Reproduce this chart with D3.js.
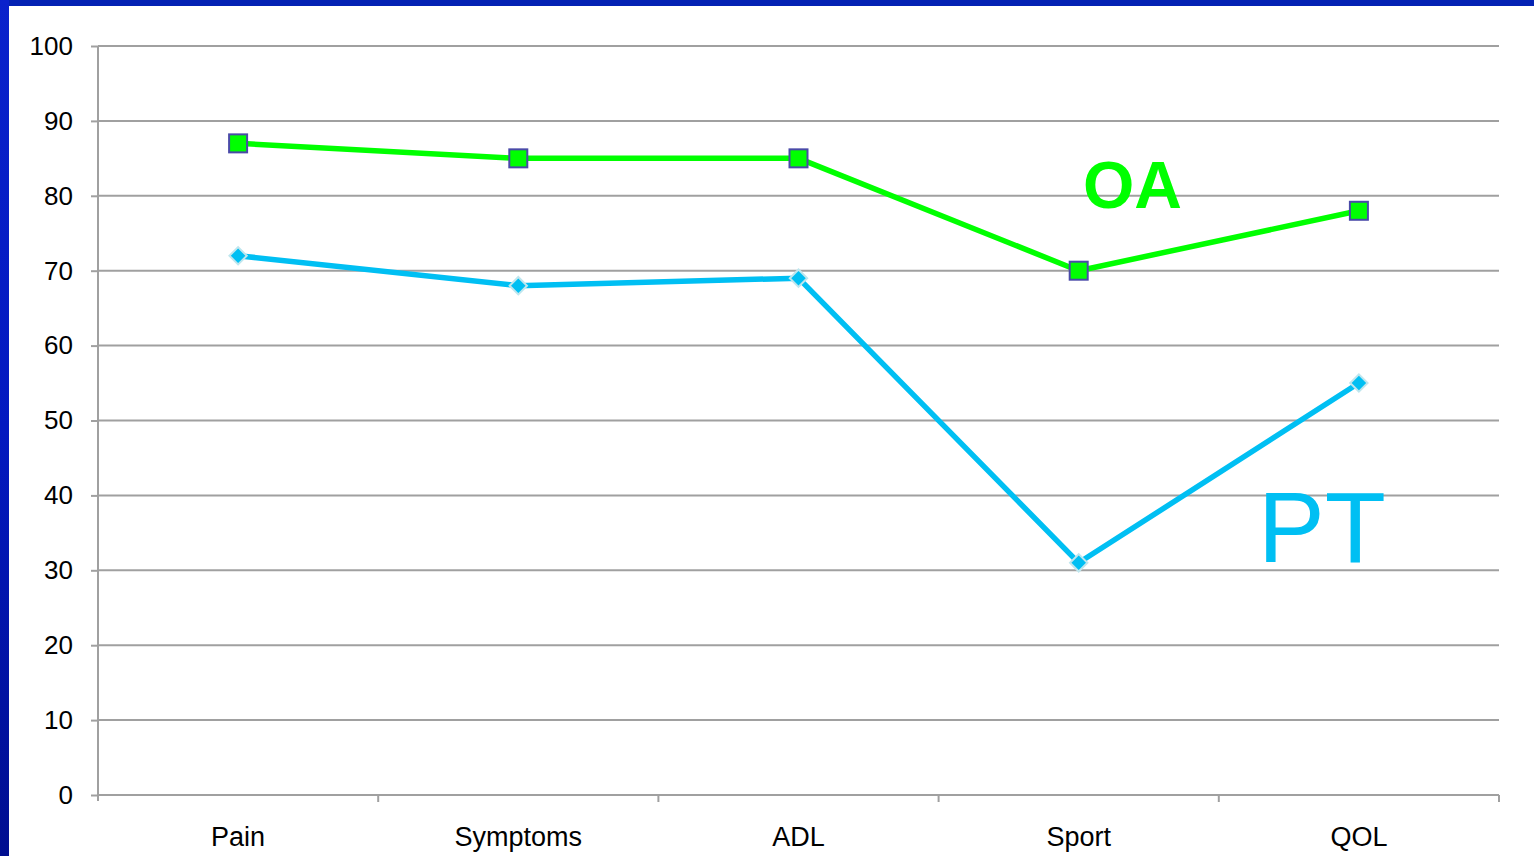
<!DOCTYPE html>
<html>
<head>
<meta charset="utf-8">
<script src="https://cdn.jsdelivr.net/npm/d3@7"></script>
<style>
  html, body { margin: 0; padding: 0; background: #fff; overflow: hidden; }
  svg { display: block; font-family: Arial, "Liberation Sans", sans-serif; }
</style>
</head>
<body>
<script>
// chart data
const categories = ["Pain", "Symptoms", "ADL", "Sport", "QOL"]
const oaValues = [87, 85, 85, 70, 78]
const ptValues = [72, 68, 69, 31, 55]
const yTicks = [0, 10, 20, 30, 40, 50, 60, 70, 80, 90, 100]

const W = 1534, H = 856
const plotL = 98, plotR = 1499, plotT = 46, plotB = 795

const svg = d3.select("body").append("svg")
  .attr("width", W)
  .attr("height", H)

// blue slide frame
const defs = svg.append("defs")
const grad = defs.append("linearGradient")
  .attr("id", "edge")
  .attr("x1", 0).attr("y1", 0).attr("x2", 0).attr("y2", 1)
grad.append("stop").attr("offset", "0%").attr("stop-color", "#0a22cc")
grad.append("stop").attr("offset", "50%").attr("stop-color", "#0319c0")
grad.append("stop").attr("offset", "100%").attr("stop-color", "#000e90")

svg.append("rect").attr("x", 0).attr("y", 0).attr("width", W).attr("height", 6)
  .attr("fill", "#0422b4")
svg.append("rect").attr("x", 0).attr("y", 0).attr("width", 9).attr("height", H)
  .attr("fill", "url(#edge)")

const x = d3.scaleBand().domain(categories).range([plotL, plotR])
const y = d3.scaleLinear().domain([0, 100]).range([plotB, plotT])

// gridlines + y axis
const yAxis = svg.append("g")
  .attr("transform", `translate(${plotL},0)`)
  .call(d3.axisLeft(y).tickValues(yTicks).tickSize(7).tickPadding(18))
yAxis.select(".domain").remove()
yAxis.selectAll("line").attr("stroke", "#a0a0a0").attr("stroke-width", 2)
yAxis.selectAll("text")
  .attr("font-size", 26)
  .attr("fill", "#000")
  .attr("font-family", "Arial, 'Liberation Sans', sans-serif")

svg.append("g").selectAll("line")
  .data(yTicks)
  .join("line")
  .attr("x1", plotL).attr("x2", plotR)
  .attr("y1", d => y(d)).attr("y2", d => y(d))
  .attr("stroke", "#a0a0a0")
  .attr("stroke-width", 2)

svg.append("line")
  .attr("x1", plotL).attr("x2", plotL)
  .attr("y1", plotT).attr("y2", plotB + 6)
  .attr("stroke", "#a0a0a0").attr("stroke-width", 2)

// x axis ticks at band edges
const edges = categories.map(c => x(c)).concat([plotR]).slice(1)
svg.append("g").selectAll("line")
  .data(edges)
  .join("line")
  .attr("x1", d => d).attr("x2", d => d)
  .attr("y1", plotB).attr("y2", plotB + 7)
  .attr("stroke", "#a0a0a0").attr("stroke-width", 2)

svg.append("g").selectAll("text")
  .data(categories)
  .join("text")
  .attr("x", d => x(d) + x.bandwidth() / 2)
  .attr("y", 846)
  .attr("text-anchor", "middle")
  .attr("font-size", 27)
  .attr("fill", "#000")
  .text(d => d)

const cx = (d, i) => x(categories[i]) + x.bandwidth() / 2
const line = d3.line().x(cx).y(d => y(d))

// PT series
svg.append("path")
  .attr("d", line(ptValues))
  .attr("fill", "none")
  .attr("stroke", "#00bff3")
  .attr("stroke-width", 5.5)
  .attr("stroke-linejoin", "round")

svg.append("g").selectAll("path")
  .data(ptValues)
  .join("path")
  .attr("d", d3.symbol(d3.symbolSquare, 150)())
  .attr("transform", (d, i) => `translate(${cx(d, i)},${y(d)}) rotate(45)`)
  .attr("fill", "#00bff3")
  .attr("stroke", "#bfe6ee")
  .attr("stroke-width", 2)

// OA series
svg.append("path")
  .attr("d", line(oaValues))
  .attr("fill", "none")
  .attr("stroke", "#00ff00")
  .attr("stroke-width", 5.5)
  .attr("stroke-linejoin", "round")

svg.append("g").selectAll("rect")
  .data(oaValues)
  .join("rect")
  .attr("x", (d, i) => cx(d, i) - 9)
  .attr("y", d => y(d) - 9)
  .attr("width", 18)
  .attr("height", 18)
  .attr("fill", "#00ff00")
  .attr("stroke", "#4a4aa8")
  .attr("stroke-width", 2)

// series labels
svg.append("text")
  .attr("x", 1083).attr("y", 208)
  .attr("font-size", 66)
  .attr("font-weight", "bold")
  .attr("fill", "#00ff00")
  .text("OA")

svg.append("text")
  .attr("x", 1258).attr("y", 562)
  .attr("font-size", 100)
  .attr("fill", "#00bff3")
  .text("PT")
</script>
</body>
</html>
